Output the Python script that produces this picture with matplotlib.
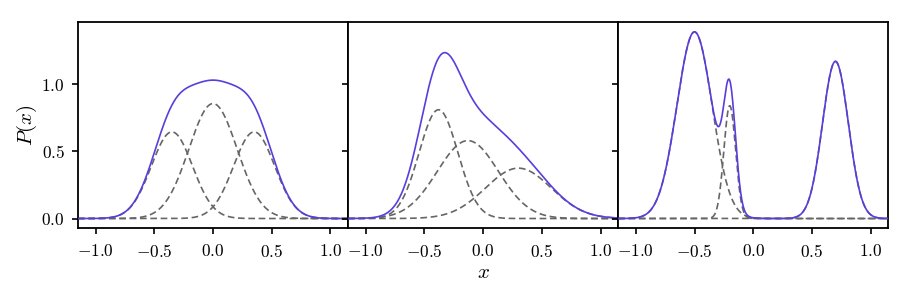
import numpy as np
import matplotlib
matplotlib.use("Agg")
import matplotlib.pyplot as plt

plt.rcParams['font.family'] = 'serif'
plt.rcParams['font.serif'] = ['cmr10']
plt.rcParams['mathtext.fontset'] = 'cm'
plt.rcParams['axes.formatter.use_mathtext'] = True
plt.rcParams['axes.unicode_minus'] = True

# Gaussian mixture components for each panel (amplitude, mean, width)
p1_amp = [0.645, 0.856, 0.645]
p1_mu = [-0.35, 0.0, 0.35]
p1_sig = [0.175, 0.205, 0.175]

p2_amp = [0.81, 0.58, 0.375]
p2_mu = [-0.38, -0.13, 0.30]
p2_sig = [0.165, 0.26, 0.28]

p3_amp = [1.39, 0.84, 1.17]
p3_mu = [-0.50, -0.20, 0.70]
p3_sig = [0.15, 0.05, 0.11]

panels = [(p1_amp, p1_mu, p1_sig), (p2_amp, p2_mu, p2_sig), (p3_amp, p3_mu, p3_sig)]

x_min, x_max = -1.15, 1.15
x_ticks = [-1.0, -0.5, 0.0, 0.5, 1.0]
y_ticks = [0.0, 0.5, 1.0]

purple = '#5a3ddc'

fig, axes = plt.subplots(1, 3, figsize=(9.12, 2.96), dpi=100, sharey=True)
fig.subplots_adjust(left=0.0855, right=0.974, top=0.926, bottom=0.23, wspace=0)

x = np.linspace(x_min, x_max, 1000)
for ax, (amps, mus, sigs) in zip(axes, panels):
    total = np.zeros_like(x)
    comps = []
    for a, m, s in zip(amps, mus, sigs):
        c = a * np.exp(-(x - m) ** 2 / (2 * s ** 2))
        comps.append(c)
        total += c
    for c in comps:
        ax.plot(x, c, color='#666666', lw=1.2, ls=(0, (4.0, 2.2)), zorder=2)
    ax.plot(x, total, color=purple, lw=1.2, zorder=3)
    ax.set_xlim(x_min, x_max)
    ax.set_xticks(x_ticks)
    ax.set_yticks(y_ticks)
    for sp in ax.spines.values():
        sp.set_linewidth(1.3)
    ax.tick_params(direction='out', length=4.5, width=1.2, labelsize=12.5)
    ax.tick_params(axis='x', pad=6)
    ax.tick_params(axis='y', pad=5)

axes[0].set_ylim(-0.07, 1.464)
axes[0].set_ylabel(r'$P(x)$', fontsize=15, labelpad=2)
axes[1].set_xlabel(r'$x$', fontsize=15, labelpad=3)

fig.savefig('out.png', dpi=100)
